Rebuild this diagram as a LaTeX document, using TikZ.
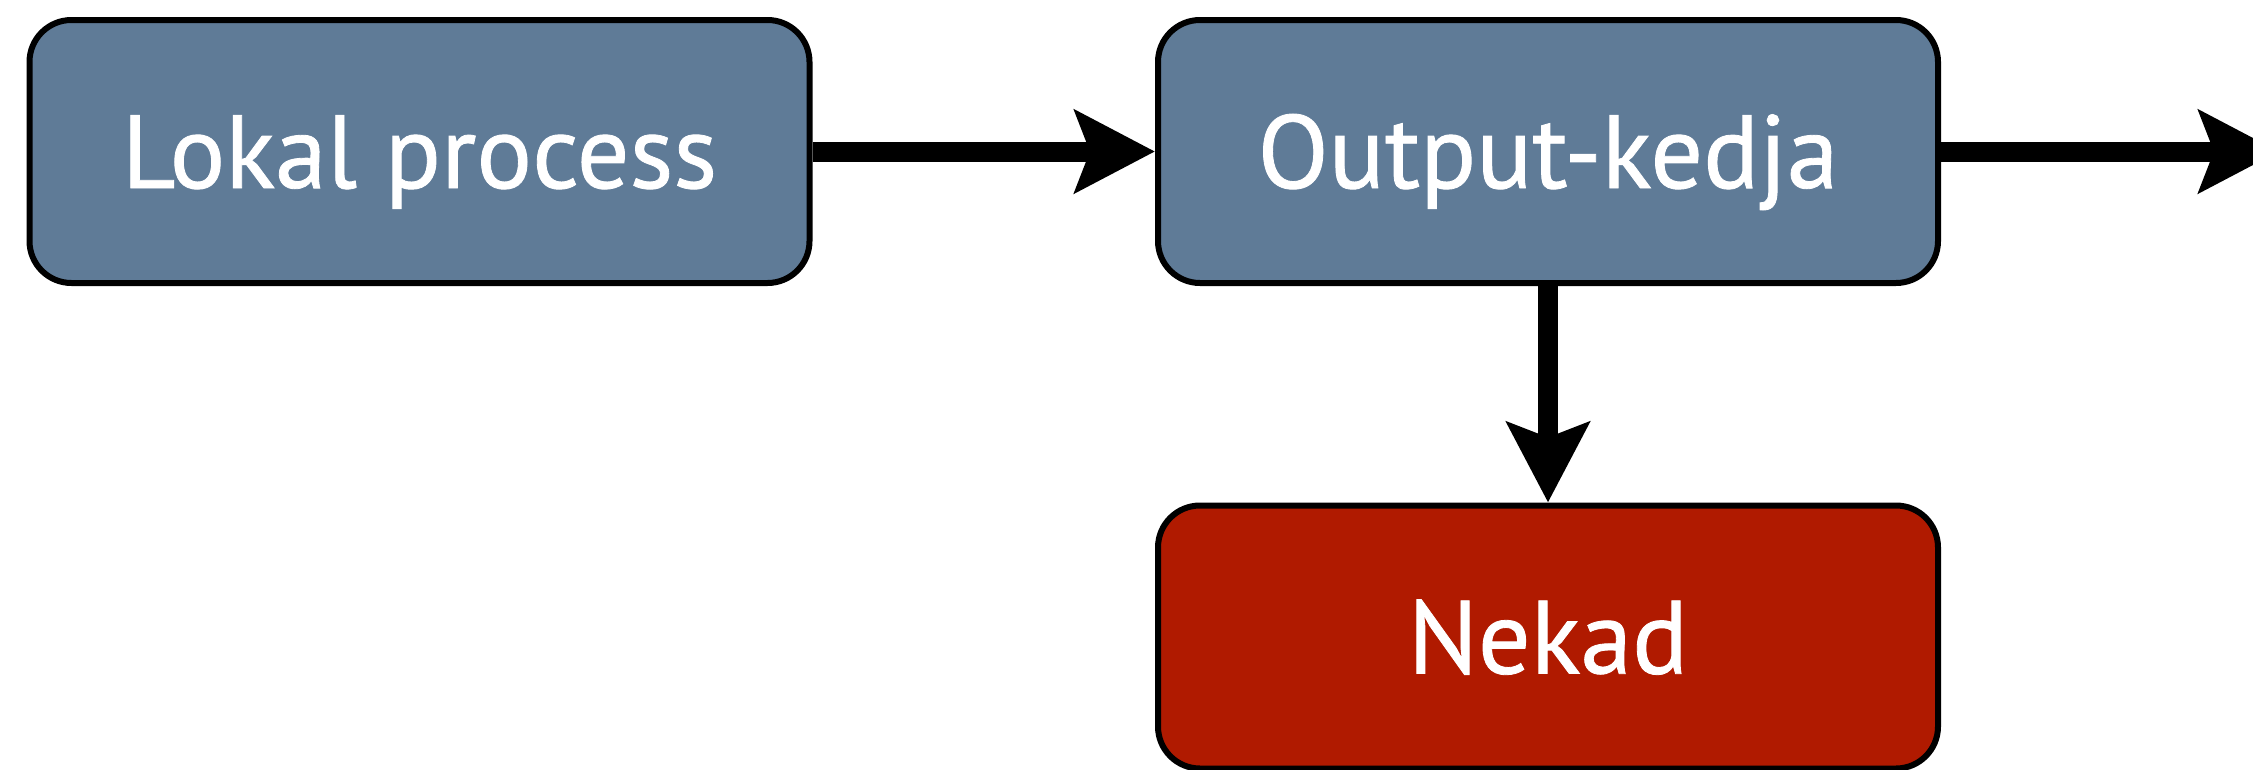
\documentclass[tikz,border=0pt]{standalone}
\usepackage{fontspec}
\setmainfont{PT Sans}
\newfontface\boxfont{PT Sans}[FakeBold=0.8]
\usetikzlibrary{arrows.meta}
\definecolor{boxblue}{RGB}{95,123,151}
\definecolor{boxred}{RGB}{176,26,0}
\tikzset{
  procbox/.style={draw=black, line width=6pt, rounded corners=42pt,
    minimum width=780pt, minimum height=263pt, inner sep=0pt,
    text=white, font=\boxfont\fontsize{104}{104}\selectfont,
    text height=73pt, text depth=0pt},
  bluebox/.style={procbox, fill=boxblue},
  redbox/.style={procbox, fill=boxred},
  flow/.style={line width=20pt, draw=black,
    -{Stealth[length=80pt, width=82pt, inset=15pt]}}
}
\begin{document}
\begin{tikzpicture}[x=1pt, y=-1pt]
\useasboundingbox (0,0) rectangle (2253,769);
\clip (0,0) rectangle (2253,769);
\node[bluebox] (lok) at (419.5,151.5) {Lokal process};
\node[bluebox] (out) at (1548,151.5) {Output-kedja};
\node[redbox] (nek) at (1548,637) {Nekad};
\coordinate (exit) at (2279,151.5);
\draw[flow] (lok.east) -- (out.west);
\draw[flow] (out.east) -- (exit);
\draw[flow] (out.south) -- (nek.north);
\end{tikzpicture}
\end{document}
